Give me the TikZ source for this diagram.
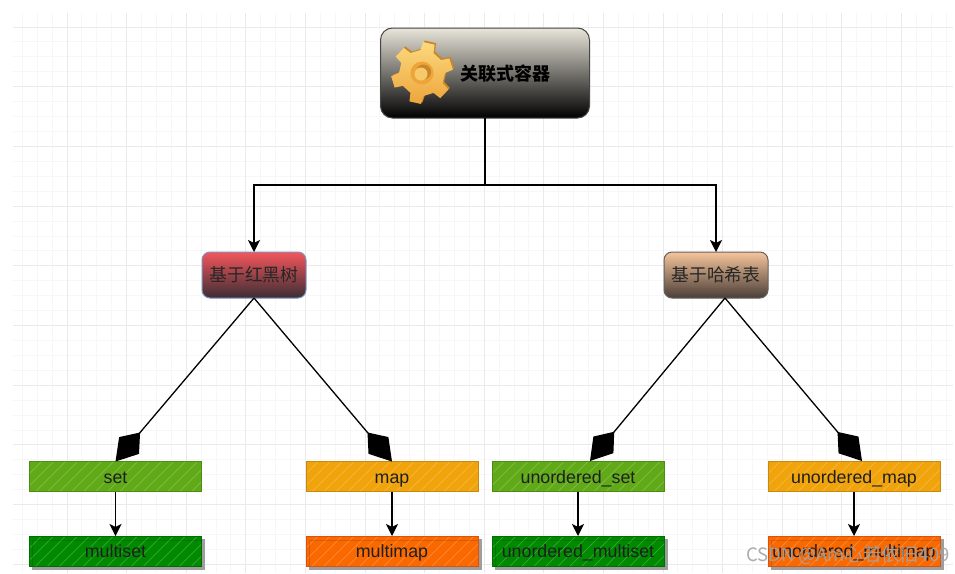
\documentclass[tikz,border=0pt]{standalone}
\usepackage{fontspec}
\setmainfont{Liberation Sans}
\newfontfamily\cjk{Noto Sans CJK SC}
\usetikzlibrary{arrows.meta,calc}
\definecolor{gridminor}{HTML}{F7F7F7}
\definecolor{gridmajor}{HTML}{EAEAEA}
\definecolor{limefill}{HTML}{60A917}
\definecolor{limeline}{HTML}{4C8C12}
\definecolor{amberfill}{HTML}{F0A30A}
\definecolor{amberline}{HTML}{C78A10}
\definecolor{darkgreenfill}{HTML}{008A00}
\definecolor{darkgreenline}{HTML}{006E00}
\definecolor{orangefill}{HTML}{FA6800}
\definecolor{orangeline}{HTML}{D9530A}
\tikzset{
  flat/.style={draw=#1,line width=.8pt,rectangle,minimum width=172pt,minimum height=30pt,inner sep=0pt,outer sep=0pt,
    font=\fontsize{17.8}{20}\selectfont,text=black!88,text height=13pt,text depth=0pt,
    path picture={\foreach \k in {-30,-18,...,172}
      \draw[white,opacity=.22,line width=.7pt] ([xshift=\k pt]path picture bounding box.south west) -- ++(32pt,32pt);}},
  shadowbox/.style={fill=black!38,draw=none},
  innerline/.style={draw=black,opacity=.13,line width=.8pt},
  rbox/.style={rectangle,rounded corners=8pt,line width=1pt,inner sep=0pt,outer sep=0pt,minimum width=104pt,minimum height=46pt,
    font=\cjk\fontsize{17.8}{20}\selectfont,text=black!85},
  conn/.style={line width=1.3pt,draw=black},
  solidarrow/.style={conn,-{Stealth[length=12pt,width=12pt,inset=3pt]}},
  kitearrow/.style={conn,-{Kite[length=38pt,width=26pt,inset=17pt]}},
  watermark/.style={font=\cjk\fontsize{18.5}{20}\selectfont,text=black!36,text opacity=.9,inner sep=0pt}
}
\begin{document}
\begin{tikzpicture}[x=1pt,y=-1pt]
\useasboundingbox (0,0) rectangle (955,573);
\fill[white] (0,0) rectangle (955,573);
% grid
\foreach \i in {-3,...,62} {
  \pgfmathsetmacro{\xx}{67+14.9*\i}
  \ifdim\xx pt>12pt \ifdim\xx pt<954pt
    \draw[gridminor,line width=.9pt] (\xx,13) -- (\xx,573);
  \fi\fi
}
\foreach \i in {0,...,37} {
  \pgfmathsetmacro{\yy}{27+14.925*\i}
  \draw[gridminor,line width=.9pt] (13,\yy) -- (953,\yy);
}
\foreach \i in {0,...,14} {
  \pgfmathsetmacro{\xx}{67+59.6*\i}
  \draw[gridmajor,line width=1pt] (\xx,13) -- (\xx,573);
}
\foreach \i in {0,...,9} {
  \pgfmathsetmacro{\yy}{27+59.7*\i}
  \draw[gridmajor,line width=1pt] (13,\yy) -- (953,\yy);
}
% shadows of the lower row
\fill[shadowbox] (32,539) rectangle (204.5,570);
\fill[shadowbox] (309,539) rectangle (481.5,570);
\fill[shadowbox] (495,539) rectangle (667.5,570);
\fill[shadowbox] (771,539) rectangle (943.5,570);
% main nodes
\definecolor{roottop}{HTML}{E9E5DA}
\definecolor{rootmid}{HTML}{7A7973}
\node[rbox,draw=black!72,top color=roottop,middle color=rootmid,bottom color=black,minimum width=209pt,minimum height=90pt,rounded corners=12pt] (root) at (485,73) {};
\node[font=\cjk\bfseries\fontsize{18}{20}\selectfont,text=black,inner sep=0pt] (roottext) at (505.5,74) {关联式容器};
\definecolor{treetop}{HTML}{F4565C}
\definecolor{treebot}{HTML}{3B2E34}
\definecolor{treeline}{HTML}{7C93BE}
\node[rbox,draw=treeline,top color=treetop,bottom color=treebot] (tree) at (254,275) {基于红黑树};
\definecolor{hashtop}{HTML}{F6C59B}
\definecolor{hashbot}{HTML}{4A3E38}
\node[rbox,draw=black!62,top color=hashtop,bottom color=hashbot] (hash) at (716,275) {基于哈希表};
\coordinate (hashleft) at (725,298);
\node[flat=limeline,fill=limefill] (set) at (115.5,476.5) {set};
\node[flat=amberline,fill=amberfill] (map) at (392,476.5) {map};
\node[flat=limeline,fill=limefill] (uset) at (578,476.5) {unordered\_set};
\node[flat=amberline,fill=amberfill] (umap) at (854,476.5) {unordered\_map\hspace{5pt}};
\node[flat=darkgreenline,fill=darkgreenfill] (mset) at (115.5,551) {multiset};
\node[flat=orangeline,fill=orangefill] (mmap) at (392,551) {multimap};
\node[flat=darkgreenline,fill=darkgreenfill] (muset) at (578,551) {unordered\_multiset};
\node[flat=orangeline,fill=orangefill] (mumap) at (854,551) {unordered\_multimap};
\foreach \n in {mset,mmap,muset,mumap}
  \draw[innerline] ($(\n.north west)+(3,4)$) -- ($(\n.north east)+(0,4)$) ($(\n.north west)+(3,4)$) -- ($(\n.south west)+(3,0)$);
\coordinate (usettip) at (590,461);
\coordinate (umaptip) at (862,461);
% gear
\definecolor{geara}{HTML}{FBD97E}
\definecolor{gearb}{HTML}{EDA53A}
\definecolor{gearc}{HTML}{C9852A}
\begin{scope}[shift={(422,73)}]
  \def\gearpath{(0:23pt) \foreach \a in {17,77,137,197,257,317} {
      -- (\a-17:23pt) -- (\a-11:31pt) -- (\a+11:31pt) -- (\a+17:23pt) -- (\a+43:23pt)} -- cycle}
  \begin{scope}[shift={(1.5pt,1.5pt)}]
    \fill[gearc] \gearpath;
  \end{scope}
  \shade[top color=geara,bottom color=gearb] \gearpath;
  \fill[gearb] (0pt,0pt) circle[radius=11.5pt];
  \fill[gearc] (1.5pt,1pt) circle[radius=7.5pt];
  \fill[geara!70!gearb] (-1pt,-1pt) circle[radius=6.5pt];
\end{scope}
% connectors
\draw[solidarrow] (root.south) -- ($(root.south)+(0,67)$) -| (tree.north);
\draw[solidarrow] (root.south) -- ($(root.south)+(0,67)$) -| (hash.north);
\draw[kitearrow] (tree.south) -- (set.north);
\draw[kitearrow] (tree.south) -- (map.north);
\draw[kitearrow] (hashleft) -- (usettip);
\draw[kitearrow] (hashleft) -- (umaptip);
\draw[solidarrow] (set.south) -- (mset.north);
\draw[solidarrow] (map.south) -- (mmap.north);
\draw[solidarrow] (uset.south) -- (muset.north);
\draw[solidarrow] (umap.south) -- (mumap.north);
% watermark
\node[watermark] (wm) at (848,555) {CSDN @Am心若依旧409};
\end{tikzpicture}
\end{document}
